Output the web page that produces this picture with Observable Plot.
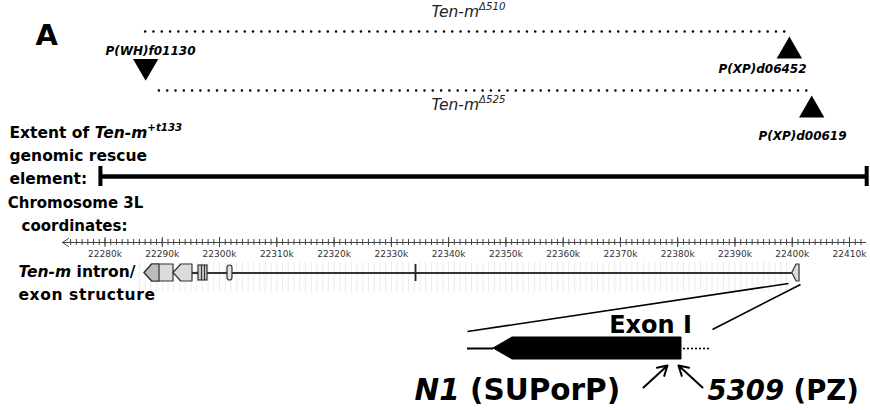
<!DOCTYPE html>
<html><head><meta charset="utf-8">
<script src="https://cdn.jsdelivr.net/npm/d3@7"></script>
<script src="https://cdn.jsdelivr.net/npm/@observablehq/plot@0.6"></script>
<style>html,body{margin:0;padding:0;background:#fff}svg{display:block}</style>
</head><body><div id="chart"></div>
<script>
// ---------------- data (genomic coordinates in kb, chromosome 3L) ----------------
const tickValues = [22280, 22290, 22300, 22310, 22320, 22330, 22340, 22350, 22360, 22370, 22380, 22390, 22400, 22410];
const tickLabels = ["22280k", "22290k", "22300k", "22310k", "22320k", "22330k", "22340k", "22350k", "22360k", "22370k", "22380k", "22390k", "22400k", "22410k"];

const deletionNames = ["Ten-m^Δ510", "Ten-m^Δ525"];
const deletionStart = [22287.1, 22289.5];
const deletionEnd = [22399.5, 22403.4];

const insertionNames = ["P(WH)f01130", "P(XP)d06452", "P(XP)d00619"];
const insertionPos = [22287.1, 22399.5, 22403.4];
const insertionDir = ["down", "up", "up"];

const rescueName = "Extent of _Ten-m_^+t133";
const rescueExtent = [22279.2, 22413.0];

const geneExonStart = [22286.9, 22291.96, 22296.33, 22301.39, 22334.1, 22400.0];
const geneExonEnd = [22291.96, 22295.28, 22297.9, 22302.26, 22334.35, 22401.27];
const geneExonShape = ["arrow", "arrow", "box", "round", "bar", "arrow"];
const exon1Split = 22289.52;
const intronSpan = [22295.28, 22400.0];

const leftLabels = ["genomic rescue", "element:", "Chromosome 3L", "coordinates:", "_Ten-m_ intron/", "exon structure"];
const exonDetailLabel = "Exon I";
const alleleLabels = ["_N1_ (SUPorP)", "_5309_ (PZ)"];

// ---------------- layout ----------------
const W = 870, H = 410;
const PX_PER_KB = 5.727, ANCHOR_PX = 104.5, ANCHOR_KB = 22280;
const X0 = ANCHOR_KB - ANCHOR_PX / PX_PER_KB, X1 = X0 + W / PX_PER_KB;
const kb = px => X0 + px / PX_PER_KB;           // layout helper: page column -> x scale value
const plain = s => s.replace(/[_^]/g, "");
const rich = new Map();
const FONT = "DejaVu Sans";

function txt(s, px, y, o = {}) {
  rich.set(plain(s), s);
  return Plot.text([s], {x: () => kb(px), y: () => y, text: d => plain(d), textAnchor: "start",
    lineAnchor: "bottom", fontFamily: FONT, fill: "#000", ...o});
}

const triDown = {draw(ctx, size) {const y = -Math.sqrt(size / (Math.sqrt(3) * 3)); ctx.moveTo(0, -2 * y); ctx.lineTo(-Math.sqrt(3) * y, y); ctx.lineTo(Math.sqrt(3) * y, y); ctx.closePath();}};

const delY = [31, 90];
const insY = {down: 65.7, up: [50.7, 109.7]};
const rescueY = 176, axisY = 242, geneY = 272.5, exonHalf = 8.5;

// minor ticks every kb along the chromosome ruler
const minorTicks = d3.range(Math.ceil(kb(66)), Math.floor(kb(866)) + 1);

// gene polygons for Plot.area
const genePolys = [];
geneExonShape.forEach((shape, i) => {
  const a = geneExonStart[i], b = geneExonEnd[i];
  if (shape === "arrow") {
    const tip = Math.min(1.35, 0.6 * (b - a));
    genePolys.push({id: i, x: a, lo: geneY, hi: geneY},
      {id: i, x: a + tip, lo: geneY - exonHalf, hi: geneY + exonHalf},
      {id: i, x: b, lo: geneY - exonHalf, hi: geneY + exonHalf});
  }
});
const exon1Dark = [
  {x: geneExonStart[0], lo: geneY, hi: geneY},
  {x: geneExonStart[0] + 1.35, lo: geneY - exonHalf, hi: geneY + exonHalf},
  {x: exon1Split, lo: geneY - exonHalf, hi: geneY + exonHalf}];
const boxIdx = geneExonShape.indexOf("box"), roundIdx = geneExonShape.indexOf("round"), barIdx = geneExonShape.indexOf("bar");
const boxInner = [1, 2].map(k => geneExonStart[boxIdx] + k * (geneExonEnd[boxIdx] - geneExonStart[boxIdx]) / 3);

// exon I enlargement (page columns)
const exonDetail = [
  {x: kb(493), lo: 348, hi: 348},
  {x: kb(512), lo: 337, hi: 359},
  {x: kb(681), lo: 337, hi: 359}];

const marks = [
  // faint genome-browser grid behind the gene model
  Plot.ruleX(minorTicks.filter(v => v >= 22286 && v <= 22399), {x: d => d, y1: 262, y2: 292, stroke: "#ebebeb", strokeWidth: 1}),

  // panel letter
  txt("A", 35, 44, {fontSize: 29, fontWeight: "bold"}),

  // deletions
  Plot.ruleY(deletionNames, {y: (d, i) => delY[i], x1: (d, i) => deletionStart[i], x2: (d, i) => deletionEnd[i],
    stroke: "#000", strokeWidth: 2.6, strokeDasharray: "0 8.3", strokeLinecap: "round"}),
  txt(deletionNames[0], 468, 16, {textAnchor: "middle", fontSize: 15.5, fontStyle: "italic", fill: "#222"}),
  txt(deletionNames[1], 468, 109, {textAnchor: "middle", fontSize: 15.5, fontStyle: "italic", fill: "#222"}),

  // insertions
  Plot.dot(insertionNames.filter((d, i) => insertionDir[i] === "down"), {
    x: d => insertionPos[insertionNames.indexOf(d)], y: () => insY.down, symbol: triDown, r: 9.4, fill: "#000", stroke: "none"}),
  Plot.dot(insertionNames.filter((d, i) => insertionDir[i] === "up"), {
    x: d => insertionPos[insertionNames.indexOf(d)], y: (d, i) => insY.up[i], symbol: "triangle", r: 9.4, fill: "#000", stroke: "none"}),
  txt(insertionNames[0], 150, 54, {textAnchor: "middle", fontSize: 12, fontWeight: "bold", fontStyle: "italic"}),
  txt(insertionNames[1], 762, 72, {textAnchor: "middle", fontSize: 12, fontWeight: "bold", fontStyle: "italic"}),
  txt(insertionNames[2], 802, 139, {textAnchor: "middle", fontSize: 12, fontWeight: "bold", fontStyle: "italic"}),

  // rescue element
  txt(rescueName, 9, 137, {fontSize: 15.5, fontWeight: "bold"}),
  txt(leftLabels[0], 9, 160, {fontSize: 15.5, fontWeight: "bold"}),
  txt(leftLabels[1], 9, 183, {fontSize: 15.5, fontWeight: "bold"}),
  Plot.ruleY([rescueExtent], {y: () => rescueY, x1: d => d[0], x2: d => d[1], stroke: "#000", strokeWidth: 4.5}),
  Plot.ruleX(rescueExtent, {x: d => d, y1: rescueY - 10, y2: rescueY + 10, stroke: "#000", strokeWidth: 4}),

  // chromosome ruler
  txt(leftLabels[2], 75, 207, {textAnchor: "middle", fontSize: 15, fontWeight: "bold"}),
  txt(leftLabels[3], 74, 230, {textAnchor: "middle", fontSize: 15, fontWeight: "bold"}),
  Plot.ruleY([0], {y: () => axisY, x1: () => kb(62), x2: () => kb(866), stroke: "#444", strokeWidth: 1}),
  Plot.line([kb(68), kb(62), kb(68)], {x: d => d, y: (d, i) => axisY + (i - 1) * 4 * (i === 1 ? 0 : 1), stroke: "#444", strokeWidth: 1, curve: "linear"}),
  Plot.ruleX(minorTicks, {x: d => d, y1: axisY - 3, y2: axisY + 3, stroke: "#444", strokeWidth: 1}),
  Plot.ruleX(tickValues, {x: d => d, y1: axisY - 5, y2: axisY + 5, stroke: "#444", strokeWidth: 1}),
  Plot.text(tickValues, {x: d => d, y: () => 256.5, text: (d, i) => tickLabels[i], lineAnchor: "bottom", fontFamily: FONT, fontSize: 9, fill: "#333"}),

  // gene model
  txt(leftLabels[4], 18, 276, {fontSize: 15.5, fontWeight: "bold"}),
  txt(leftLabels[5], 18, 299, {fontSize: 15.5, fontWeight: "bold"}),
  Plot.ruleY([intronSpan], {y: () => geneY, x1: d => d[0], x2: d => d[1], stroke: "#333", strokeWidth: 2.2}),
  Plot.ruleY([0], {y: () => geneY, x1: () => geneExonEnd[1], x2: () => geneExonStart[boxIdx], stroke: "#333", strokeWidth: 2.2}),
  Plot.area(genePolys, {x1: "x", y1: "lo", y2: "hi", z: "id", fill: "#dcdcdc", stroke: "#333", strokeWidth: 1.2}),
  Plot.area(exon1Dark, {x1: "x", y1: "lo", y2: "hi", fill: "#bdbdbd", stroke: "#333", strokeWidth: 1.2}),
  Plot.rect([boxIdx], {x1: i => geneExonStart[i], x2: i => geneExonEnd[i], y1: () => geneY - exonHalf + 1, y2: () => geneY + exonHalf - 1, fill: "#cfcfcf", stroke: "#333", strokeWidth: 1.2}),
  Plot.ruleX(boxInner, {x: d => d, y1: geneY - exonHalf + 1, y2: geneY + exonHalf - 1, stroke: "#333", strokeWidth: 1.2}),
  Plot.rect([roundIdx], {x1: i => geneExonStart[i], x2: i => geneExonEnd[i], y1: () => geneY - exonHalf + 1, y2: () => geneY + exonHalf - 1, rx: 2.5, fill: "#e4e4e4", stroke: "#333", strokeWidth: 1.2}),
  Plot.ruleX([barIdx], {x: i => (geneExonStart[i] + geneExonEnd[i]) / 2, y1: geneY - exonHalf, y2: geneY + exonHalf, stroke: "#222", strokeWidth: 1.8}),

  // enlargement of exon I
  Plot.link([0, 1], {x1: i => i ? kb(800) : kb(788), y1: i => i ? 284 : 283, x2: i => i ? kb(712) : kb(467), y2: i => i ? 329 : 331, stroke: "#000", strokeWidth: 1.6}),
  Plot.ruleY([0], {y: () => 348, x1: () => kb(467), x2: () => kb(493), stroke: "#000", strokeWidth: 2}),
  Plot.area(exonDetail, {x1: "x", y1: "lo", y2: "hi", fill: "#000", stroke: "#000", strokeWidth: 1}),
  Plot.ruleY([0], {y: () => 348, x1: () => kb(684), x2: () => kb(709), stroke: "#000", strokeWidth: 2.2, strokeDasharray: "0 4", strokeLinecap: "round"}),
  txt(exonDetailLabel, 650, 332, {textAnchor: "middle", fontSize: 24, fontWeight: "bold"}),
  Plot.arrow([0, 1], {x1: i => i ? kb(702) : kb(643), y1: () => 387, x2: i => i ? kb(678) : kb(667), y2: () => 365, stroke: "#000", strokeWidth: 2, headLength: 9}),
  txt(alleleLabels[0], 414, 399, {fontSize: 29.5, fontWeight: "bold"}),
  txt(alleleLabels[1], 707, 399, {fontSize: 27.5, fontWeight: "bold"})
];

const svg = Plot.plot({
  width: W, height: H,
  marginTop: 0, marginRight: 0, marginBottom: 0, marginLeft: 0,
  x: {type: "linear", domain: [X0, X1], range: [0, W], axis: null},
  y: {type: "linear", domain: [0, H], range: [0, H], axis: null},
  style: {background: "#fff", overflow: "visible"},
  marks
});

// rich text: italic (_..._) and superscript (^...) segments as tspans
d3.select(svg).selectAll("text").each(function () {
  const content = this.textContent;
  if (content === plain(leftLabels[5])) d3.select(this).style("letter-spacing", "0.6px");
  const raw = rich.get(content);
  if (!raw || raw === content) return;
  const re = /_([^_]*)_|\^([^_^]*)|([^_^]+)/g;
  let m; const el = d3.select(this); el.text("");
  while ((m = re.exec(raw))) {
    if (m[1] !== undefined) el.append("tspan").attr("font-style", "italic").text(m[1]);
    else if (m[2] !== undefined) el.append("tspan").attr("font-style", "italic").attr("font-size", "66%").attr("dy", "-0.6em").text(m[2]);
    else el.append("tspan").text(m[3]);
  }
});
document.getElementById("chart").appendChild(svg);
</script>
</body></html>
